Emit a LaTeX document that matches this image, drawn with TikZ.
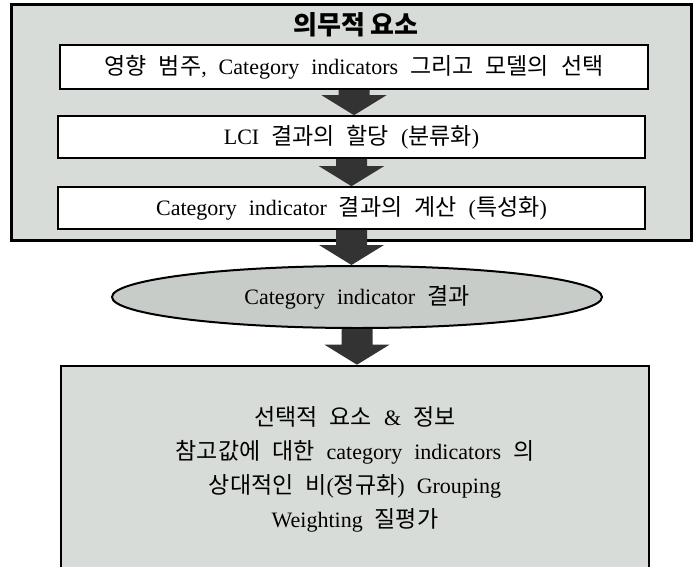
\documentclass[tikz,border=0pt]{standalone}
\usepackage{fontspec}
\setmainfont{Liberation Serif}
\newfontfamily\kr{Noto Sans CJK KR}[Scale=1.045]
\newfontfamily\krt{Noto Sans CJK KR}
\usetikzlibrary{shapes.geometric,calc}
\newcommand\K[1]{{\kr #1}}
\protected\def\bodyfont{\fontsize{22}{34}\selectfont\spaceskip=12pt\relax}
\definecolor{panelgray}{HTML}{D8DCD8}
\definecolor{ellgray}{HTML}{C8CCC8}
\definecolor{arrowgray}{HTML}{333333}
\tikzset{
  body/.style={font=\bodyfont},
  outerbox/.style={draw=black, line width=3pt, fill=panelgray, inner sep=0pt},
  whitebox/.style={draw=black, line width=1.6pt, fill=white, inner sep=0pt, body},
  resultell/.style={ellipse, draw=black, line width=2pt, fill=ellgray, inner sep=0pt, body},
  optbox/.style={draw=black, line width=2.6pt, fill=panelgray, inner sep=0pt},
  fatarrow/.style={fill=arrowgray}
}
\newcommand\fatarrow[2]{%
  \fill[fatarrow] let \p1=(#1.south), \p2=(#2.north) in
    (\x1-15.5pt,\y1) -- (\x1+15.5pt,\y1) -- (\x1+15.5pt,\y2+20pt) -- (\x1+32.5pt,\y2+20pt)
    -- (\x1,\y2) -- (\x1-32.5pt,\y2+20pt) -- (\x1-15.5pt,\y2+20pt) -- cycle;}
\begin{document}
\begin{tikzpicture}[x=1pt,y=-1pt]
\useasboundingbox (0,0) rectangle (694,566);
\node[outerbox, minimum width=680pt, minimum height=236pt] (outer) at (351,122) {};
\node[font=\fontsize{26}{30}\selectfont\krt\bfseries] (title) at (356,25) {의무적 요소};
\node[whitebox, minimum width=588pt, minimum height=44pt] (b1) at (354,67)
  {\K{영향 범주}, Category indicators \K{그리고 모델의 선택}};
\node[whitebox, minimum width=587pt, minimum height=42pt] (b2) at (351.5,137)
  {LCI \K{결과의 할당} (\K{분류화})};
\node[whitebox, minimum width=587pt, minimum height=42pt] (b3) at (351.5,208)
  {Category indicator \K{결과의 계산} (\K{특성화})};
\node[resultell, minimum width=490pt, minimum height=62pt] (res) at (357,297)
  {Category indicator \K{결과}};
\node[optbox, minimum width=588pt, minimum height=210pt] (opt) at (355,471) {};
\node[body, align=center] (opttext) at (355,469)
  {\K{선택적 요소} \& \K{정보}\\
   \K{참고값에 대한} category indicators \K{의}\\
   \K{상대적인 비}(\K{정규화}) Grouping\\
   Weighting \K{질평가}};
\fatarrow{b1}{b2}
\fatarrow{b2}{b3}
\fatarrow{b3}{res}
\fatarrow{res}{opt}
\end{tikzpicture}
\end{document}
